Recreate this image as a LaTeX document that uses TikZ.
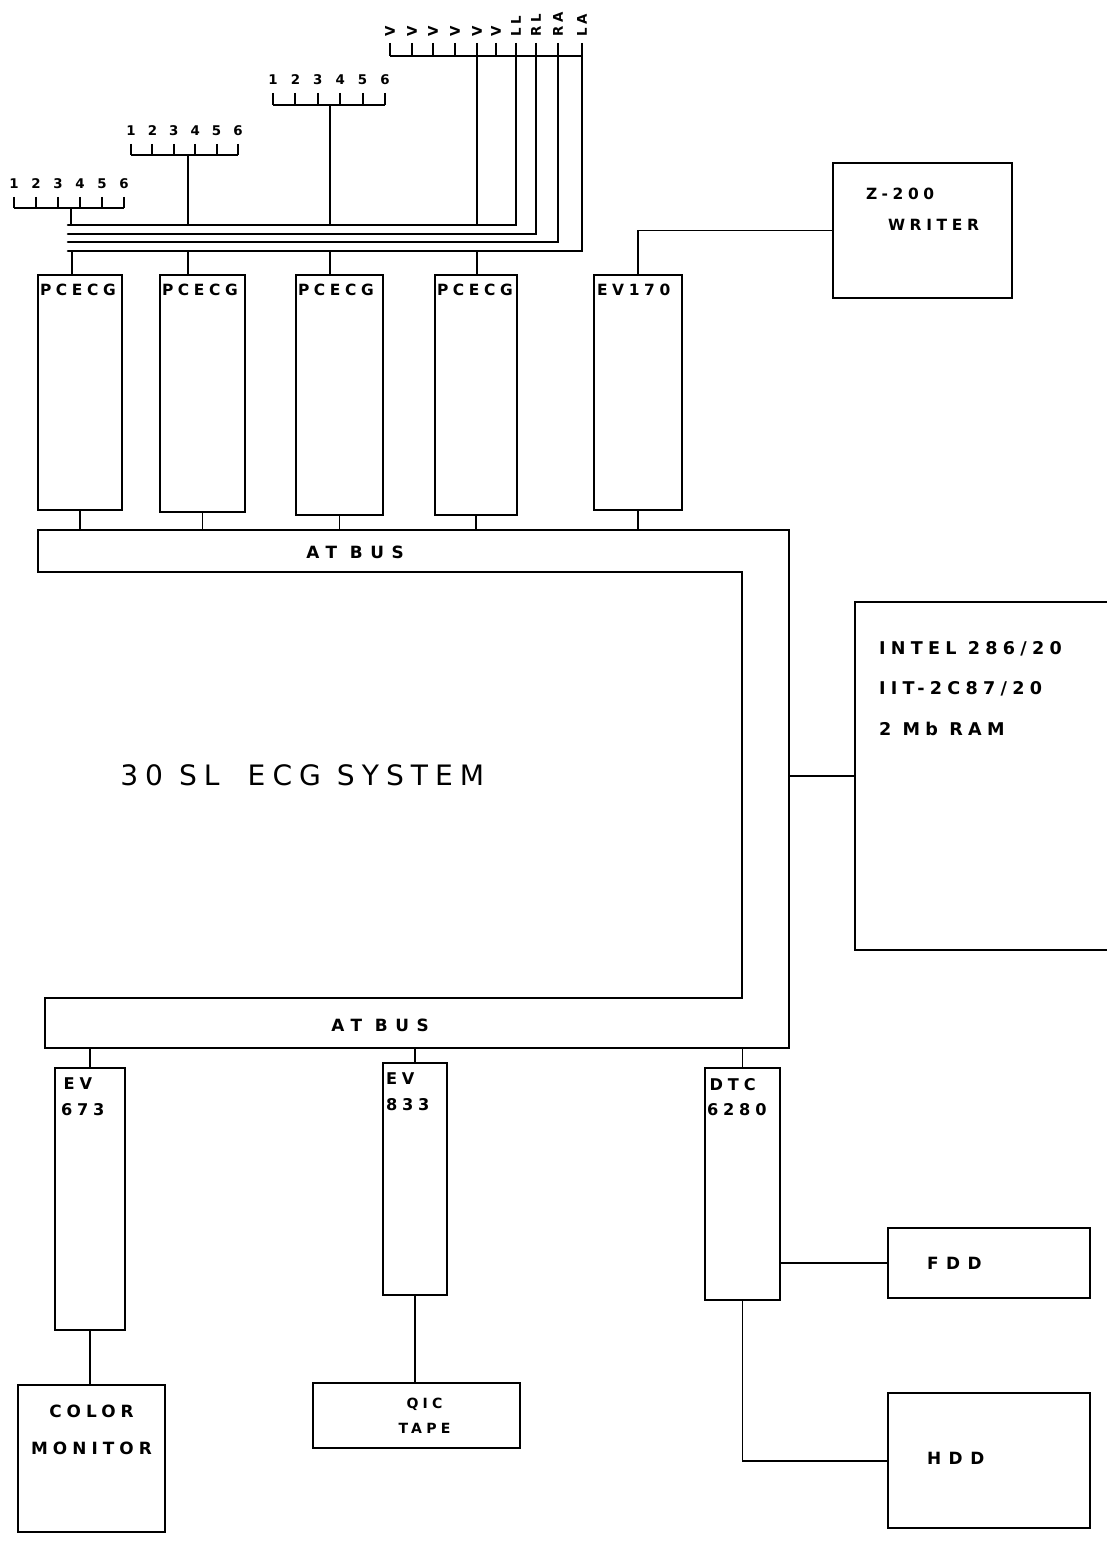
\documentclass[tikz,border=0pt]{standalone}
\usepackage{fontspec}
\setmainfont{DejaVu Sans}
\newfontfamily\stencil[LetterSpace=30]{DejaVu Sans}
\newfontfamily\widefont[LetterSpace=45]{DejaVu Sans}
\newfontfamily\titlefont[LetterSpace=25]{DejaVu Sans}
\usetikzlibrary{fit,positioning}

\tikzset{
  unit/.style={draw, line width=1.8pt, inner sep=0pt},
  wire/.style={line width=1.4pt},
  bundle/.style={line width=1.8pt, line cap=round},
  lbl/.style={font=\stencil\bfseries\fontsize{11}{13}\selectfont, inner sep=0pt, anchor=north west},
  lead/.style={font=\stencil\bfseries\fontsize{9.5}{11}\selectfont, inner sep=0pt},
  boardtxt/.style={lbl, font=\stencil\bfseries\fontsize{11.5}{18}\selectfont, align=left},
}

\begin{document}
\begin{tikzpicture}[x=0.025cm, y=-0.025cm]
  \useasboundingbox (0,0) rectangle (1106,1543);

  % Lead groups -- numbered leads
  \foreach \n [count=\i from 0] in {1,...,6} {
    \node[lead] (ga\n) at (14+\i*22,184) {\n};
    \draw[wire] (14+\i*22,197) -- (14+\i*22,208);
  }
  \draw[wire] (14,208) -- (124,208);
  \foreach \n [count=\i from 0] in {1,...,6} {
    \node[lead] (gb\n) at (131+\i*21.4,131) {\n};
    \draw[wire] (131+\i*21.4,144) -- (131+\i*21.4,155);
  }
  \draw[wire] (131,155) -- (238,155);
  \foreach \n [count=\i from 0] in {1,...,6} {
    \node[lead] (gc\n) at (273+\i*22.4,80) {\n};
    \draw[wire] (273+\i*22.4,93) -- (273+\i*22.4,105);
  }
  \draw[wire] (273,105) -- (385,105);

  % Chest and limb leads (rotated names)
  \foreach \x/\t [count=\i] in {390/V,412/V,433/V,455/V,477/V,496/V,516/LL,536/RL,558/RA,582/LA} {
    \node[lead, rotate=90, anchor=west] (gd\i) at (\x,37) {\t};
    \draw[wire] (\x,43) -- (\x,56);
  }
  \draw[wire] (390,56) -- (582,56);

  % Cable bundle
  \coordinate (w1) at (68,225);
  \coordinate (w2) at (68,234);
  \coordinate (w3) at (68,242);
  \coordinate (w4) at (68,251);
  \draw[bundle] (w1) -- (516,225) -- (516,56);
  \draw[bundle] (w2) -- (536,234) -- (536,56);
  \draw[bundle] (w3) -- (558,242) -- (558,56);
  \draw[bundle] (w4) -- (582,251) -- (582,56);
  \draw[wire] (71,208) -- (71,225);
  \draw[wire] (188,155) -- (188,225);
  \draw[wire] (330,105) -- (330,225);
  \draw[wire] (477,56) -- (477,225);

  % Acquisition boards
  \node[unit, fit={(38,275) (122,510)}] (pc1) {};
  \node[unit, fit={(160,275) (245,512)}] (pc2) {};
  \node[unit, fit={(296,275) (383,515)}] (pc3) {};
  \node[unit, fit={(435,275) (517,515)}] (pc4) {};
  \node[unit, fit={(594,275) (682,510)}] (ev170) {};
  \foreach \b in {pc1,pc2,pc3,pc4}
    \node[lbl] (\b t) at ([shift={(3,10)}]\b.north west) {PCECG};
  \node[lbl] (ev170t) at ([shift={(4,10)}]ev170.north west) {EV170};

  \foreach \b/\x in {pc1/72,pc2/188,pc3/330,pc4/477} {
    \coordinate (\b c) at (\x,251);
    \draw[wire] (\b c) -- (\b c |- \b.north);
  }

  % Writer
  \node[unit, fit={(833,163) (1012,298)}] (writer) {};
  \node[lbl, anchor=west] (writert1) at ([shift={(34,32)}]writer.north west) {Z-200};
  \node[lbl, anchor=west] (writert2) at ([shift={(56,63)}]writer.north west) {WRITER};
  \draw[wire] (ev170.north) |- (writer.west);

  % AT bus
  \coordinate (bustop) at (0,530);
  \coordinate (busbot) at (0,1048);
  \coordinate (busR) at (789,0);
  \draw[line width=1.8pt] (38,530) -- (789,530) -- (789,1048) -- (45,1048) -- (45,998)
    -- (742,998) -- (742,572) -- (38,572) -- cycle;
  \node[lbl, font=\widefont\bfseries\fontsize{12}{14}\selectfont, anchor=center] (bus1) at (355,552) {AT\hspace{9pt}BUS};
  \node[lbl, font=\widefont\bfseries\fontsize{12}{14}\selectfont, anchor=center] (bus2) at (380,1025) {AT\hspace{9pt}BUS};
  \foreach \b in {pc1,pc2,pc3,pc4,ev170}
    \draw[wire] (\b.south) -- (\b.south |- bustop);

  \node[font=\titlefont\fontsize{20}{24}\selectfont, inner sep=0pt, anchor=west] (title) at (120,775) {30 SL\quad ECG SYSTEM};

  % Processor
  \node[unit, fit={(855,602) (1115,950)}] (cpu) {};
  \node[lbl, font=\stencil\bfseries\fontsize{12.5}{29}\selectfont, align=left] (cput)
    at ([shift={(25,40)}]cpu.north west) {INTEL 286/20\\IIT-2C87/20\\2 Mb RAM};
  \draw[wire] (cpu.west -| busR) -- (cpu.west);

  % Lower boards
  \node[unit, fit={(55,1068) (125,1330)}] (ev673) {};
  \node[unit, fit={(383,1063) (447,1295)}] (ev833) {};
  \node[unit, fit={(705,1068) (780,1300)}] (dtc) {};
  \node[boardtxt] (ev673t) at ([shift={(7,11)}]ev673.north west) {\,EV\\673};
  \node[boardtxt] (ev833t) at ([shift={(4,11)}]ev833.north west) {EV\\833};
  \node[boardtxt] (dtct) at ([shift={(3,11)}]dtc.north west) {\,DTC\\6280};
  \foreach \b in {ev673,ev833,dtc}
    \draw[wire] (\b.north |- busbot) -- (\b.north);

  % Peripherals
  \node[unit, fit={(18,1385) (165,1532)}] (monitor) {};
  \node[lbl, font=\stencil\bfseries\fontsize{12}{26}\selectfont, align=center, anchor=north] (monitort)
    at ([shift={(0,21)}]monitor.north) {COLOR\\MONITOR};
  \node[unit, fit={(313,1383) (520,1448)}] (qic) {};
  \node[lbl, font=\stencil\bfseries\fontsize{10}{18}\selectfont, align=center, anchor=north] (qict)
    at ([shift={(8,16)}]qic.north) {QIC\\TAPE};
  \node[unit, fit={(888,1228) (1090,1298)}] (fdd) {};
  \node[lbl, font=\widefont\bfseries\fontsize{12}{14}\selectfont, anchor=west] (fddt) at ([shift={(40,0)}]fdd.west) {FDD};
  \node[unit, fit={(888,1393) (1090,1528)}] (hdd) {};
  \node[lbl, font=\widefont\bfseries\fontsize{12}{14}\selectfont, anchor=west] (hddt) at ([shift={(40,-2)}]hdd.west) {HDD};

  \draw[wire] (ev673.south) -- (ev673.south |- monitor.north);
  \draw[wire] (ev833.south) -- (ev833.south |- qic.north);
  \draw[wire] (fdd.west -| dtc.east) -- (fdd.west);
  \draw[wire] (dtc.south) |- (hdd.west);
\end{tikzpicture}
\end{document}
